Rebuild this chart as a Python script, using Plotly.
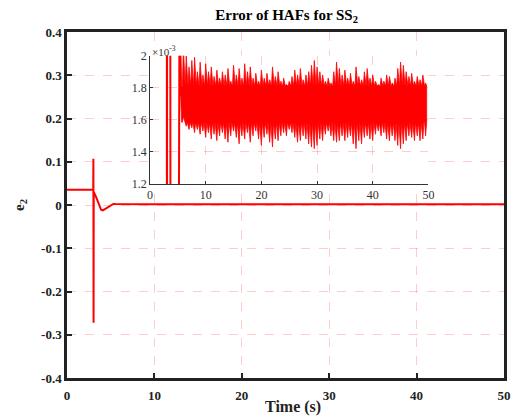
import numpy as np
import plotly.graph_objects as go

# transient part of the HAF error e2
t_transient = [0, 3.0, 3.02, 3.04, 3.06, 3.3, 3.9, 4.1, 4.5, 5.0, 5.3, 5.5]
e_transient = [0.035, 0.035, 0.107, -0.272, 0.03, 0.02, -0.011, -0.0125, -0.007, -0.001, 0.0024, 0.0021]

# steady-state oscillation (units of 1e-3): dense core band plus spike peaks every 0.5 s from 5.5 s
core_top_milli = 1.81
core_bottom_milli = 1.585
t_steady = np.arange(5.5, 49.75, 0.5)
e_hi_milli = [2.1, 2.05, 2.0, 1.93, 1.97, 1.99, 1.9, 1.96, 1.88, 1.95, 1.9, 1.93, 1.87, 1.91, 1.86,
              1.9, 1.88, 1.92, 1.84, 1.94, 1.88, 1.92, 1.86, 1.95, 1.9, 1.93, 1.86, 1.89, 1.84, 1.91,
              1.86, 1.89, 1.85, 1.93, 1.87, 1.9, 1.84, 1.86, 1.82, 1.84, 1.87, 1.91, 1.88, 1.92, 1.85,
              1.88, 1.9, 1.94, 1.97, 1.93, 1.9, 1.88, 1.84, 1.86, 1.83, 1.9, 1.96, 1.92, 1.88, 1.91,
              1.86, 1.89, 1.84, 1.93, 1.87, 1.85, 1.9, 1.92, 1.86, 1.88, 1.84, 1.82, 1.86, 1.84, 1.88,
              1.87, 1.83, 1.86, 1.92, 1.96, 1.94, 1.9, 1.87, 1.89, 1.84, 1.87, 1.85, 1.88, 1.83]
e_lo_milli = [1.75, 1.62, 1.56, 1.54, 1.55, 1.52, 1.54, 1.51, 1.53, 1.49, 1.52, 1.48, 1.51, 1.47, 1.5,
              1.52, 1.48, 1.46, 1.5, 1.53, 1.49, 1.45, 1.5, 1.48, 1.52, 1.46, 1.5, 1.53, 1.48, 1.44,
              1.49, 1.51, 1.46, 1.43, 1.48, 1.47, 1.5, 1.52, 1.5, 1.54, 1.52, 1.49, 1.46, 1.47, 1.5,
              1.48, 1.45, 1.43, 1.42, 1.44, 1.48, 1.47, 1.51, 1.53, 1.5, 1.47, 1.46, 1.47, 1.5, 1.47,
              1.49, 1.5, 1.45, 1.42, 1.47, 1.45, 1.49, 1.5, 1.48, 1.47, 1.51, 1.53, 1.5, 1.52, 1.48,
              1.47, 1.5, 1.47, 1.44, 1.42, 1.45, 1.47, 1.5, 1.49, 1.47, 1.5, 1.47, 1.48, 1.5]
e_final = 1.7e-3

x_ticks = [0, 10, 20, 30, 40, 50]
y_ticks = [-0.4, -0.3, -0.2, -0.1, 0, 0.1, 0.2, 0.3, 0.4]
y_tick_text = ["-0.4", "-0.3", "-0.2", "-0.1", "0", "0.1", "0.2", "0.3", "0.4"]
inset_y_ticks = [0.0012, 0.0014, 0.0016, 0.0018, 0.0020]
inset_y_text = ["1.2", "1.4", "1.6", "1.8", "2"]

n = min(len(t_steady), len(e_hi_milli), len(e_lo_milli))
ts = [float(v) for v in t_steady[:n]]
hi = [v * 1e-3 for v in e_hi_milli[:n]]
lo = [v * 1e-3 for v in e_lo_milli[:n]]
ctop = core_top_milli * 1e-3
cbot = core_bottom_milli * 1e-3

# main-axes line: transient then steady level
t_main = t_transient + ts + [50.0]
e_main = e_transient + [(a + b) / 2 for a, b in zip(hi, lo)] + [e_final]

# inset band polygon: spiky upper edge forward, spiky lower edge back
w = 0.19
band_x, band_y = [], []
for i, (t, h) in enumerate(zip(ts, hi)):
    base = h if i == 0 else ctop
    band_x += [t - w, t, t + w]
    band_y += [base, h, ctop]
lower_x, lower_y = [], []
for i, (t, l) in enumerate(zip(ts, lo)):
    base = l if i == 0 else cbot
    lower_x += [t - w, t, t + w]
    lower_y += [base, l, cbot]
band_x += lower_x[::-1]
band_y += lower_y[::-1]

RED = "#ff0000"
GRID = "rgba(255,0,0,0.2)"
FONT = "Liberation Serif"
AX = "#222222"

fig = go.Figure()
fig.add_trace(go.Scatter(x=t_main, y=e_main, mode="lines", line=dict(color=RED, width=2),
                         xaxis="x", yaxis="y", showlegend=False, hoverinfo="skip"))
fig.add_trace(go.Scatter(x=t_transient, y=e_transient, mode="lines", line=dict(color=RED, width=2),
                         xaxis="x2", yaxis="y2", showlegend=False, hoverinfo="skip"))
fig.add_trace(go.Scatter(x=band_x, y=band_y, mode="lines", fill="toself", fillcolor=RED,
                         line=dict(color=RED, width=0.8), xaxis="x2", yaxis="y2",
                         showlegend=False, hoverinfo="skip"))

fig.update_layout(
    width=523, height=420,
    margin=dict(l=67, r=15, t=32, b=42),
    paper_bgcolor="white", plot_bgcolor="white",
    font=dict(family=FONT, color="black"),
    title=dict(text="<b>Error of HAFs for SS<sub>2</sub></b>", x=0.548, xanchor="center",
               y=0.978, yanchor="top", font=dict(size=15, family=FONT, color="black")),
    xaxis=dict(domain=[0, 1], range=[0, 50], tickvals=x_ticks, ticktext=[f"<b>{v}</b>" for v in x_ticks],
               ticks="inside", ticklen=5, tickwidth=2, tickcolor=AX, ticklabelstandoff=4,
               showline=True, linewidth=2.5, linecolor=AX, mirror=True,
               showgrid=True, gridcolor=GRID, griddash="dash", gridwidth=1, zeroline=False,
               tickfont=dict(size=13, family=FONT, color=AX)),
    yaxis=dict(domain=[0, 1], range=[-0.4, 0.4], tickvals=y_ticks, ticktext=[f"<b>{s}</b>" for s in y_tick_text],
               ticks="inside", ticklen=5, tickwidth=2, tickcolor=AX,
               showline=True, linewidth=2.5, linecolor=AX, mirror=True,
               showgrid=True, gridcolor=GRID, griddash="dash", gridwidth=1, zeroline=False,
               tickfont=dict(size=13, family=FONT, color=AX),
               title=dict(text="<b>e<sub>2</sub></b>", font=dict(size=15, family=FONT, color=AX), standoff=13)),
    xaxis2=dict(domain=[0.19, 0.827], anchor="y2", range=[0, 50], tickvals=x_ticks,
                ticks="inside", ticklen=3, tickwidth=1, tickcolor="#333",
                showline=True, linewidth=1, linecolor="#333", mirror=False,
                showgrid=True, gridcolor=GRID, griddash="dash", gridwidth=1, zeroline=False,
                tickfont=dict(size=12, family=FONT, color="#333")),
    yaxis2=dict(domain=[0.561, 0.9315], anchor="x2", range=[0.0012, 0.002], tickvals=inset_y_ticks,
                ticktext=inset_y_text,
                ticks="inside", ticklen=3, tickwidth=1, tickcolor="#333",
                showline=True, linewidth=1, linecolor="#333", mirror=False,
                showgrid=True, gridcolor=GRID, griddash="dash", gridwidth=1, zeroline=False,
                tickfont=dict(size=12, family=FONT, color="#333")),
)

fig.add_annotation(text="<b>Time (s)</b>", xref="paper", yref="paper", x=(295 - 67) / 441, y=-0.085,
                   xanchor="center", yanchor="middle", showarrow=False,
                   font=dict(size=16, family=FONT, color=AX))
fig.add_annotation(text="×10<sup>-3</sup>", xref="x2 domain", yref="y2 domain", x=0.0, y=1.0,
                   xanchor="left", yanchor="bottom", showarrow=False, yshift=-4,
                   font=dict(size=11, family=FONT, color="#333"))

fig.write_html("out.html")
